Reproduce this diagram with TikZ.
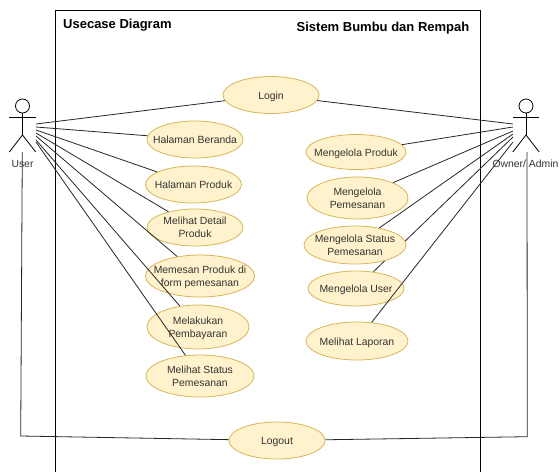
\documentclass[tikz,border=0pt]{standalone}
\usepackage{fontspec}
\setmainfont{Liberation Sans}
\usetikzlibrary{shapes.geometric}
\definecolor{casefill}{HTML}{FFF2CC}
\definecolor{caseline}{HTML}{D6B656}
\definecolor{labelgray}{HTML}{333333}
\tikzset{
    usecase/.style={ellipse, draw=caseline, fill=casefill, line width=0.8pt, inner sep=-15pt, align=center,
        text=labelgray, font=\fontsize{10.4}{13.3}\selectfont,
        execute at begin node={\rule{0pt}{11.5pt}}, execute at end node={\rule[-3.2pt]{0pt}{3.2pt}}},
    twolines/.style={usecase, execute at begin node={\rule{0pt}{24pt}}},
    actorname/.style={inner sep=0pt, text=labelgray, font=\fontsize{10.4}{13}\selectfont},
    title/.style={inner sep=0pt, font=\fontsize{13}{16}\selectfont\bfseries},
    link/.style={line width=0.8pt, black!85}
}
\begin{document}
\begin{tikzpicture}[x=1pt, y=-1pt]
            \useasboundingbox (0,0) rectangle (560,472);
            \draw[line width=0.8pt] (55,472)--(55,10.5)--(480.5,10.5)--(480.5,472);
            \node[title, anchor=west] (usecasetitle) at (63,24.7) {Usecase Diagram};
            \node[title, anchor=east] (systemtitle) at (469.5,27.7) {Sistem Bumbu dan Rempah};

            \foreach \x in {22.5, 526} {
                \draw[line width=0.8pt] (\x,106) circle (7);
                \draw[line width=0.8pt] (\x,113)--(\x,135);
                \draw[line width=0.8pt] (\x-13.2,117)--(\x+13.2,117);
                \draw[line width=0.8pt] (\x-13.2,152)--(\x,135)--(\x+13.2,152);
            }
            \node[actorname] (user) at (22.5,163.5) {User};
            \node[actorname] (owner) at (525.5,163.5) {Owner/ Admin};

            \node[usecase, minimum width=96, minimum height=37] (login) at (271,95) {Login};
            \node[usecase, minimum width=96, minimum height=37] (beranda) at (195,139.5) {Halaman Beranda};
            \node[usecase, minimum width=96, minimum height=37] (produk) at (193.5,184.5) {Halaman Produk};
            \node[twolines, minimum width=96, minimum height=37] (detail) at (195,227.5) {Melihat Detail\\Produk};
            \node[twolines, minimum width=109, minimum height=42] (memesan) at (200,276) {Memesan Produk di\\form pemesanan};
            \node[twolines, minimum width=102, minimum height=44] (bayar) at (198,327) {Melakukan\\Pembayaran};
            \node[twolines, minimum width=108, minimum height=42] (status) at (200,376) {Melihat Status\\Pemesanan};
            \node[usecase, minimum width=96, minimum height=37] (logout) at (277,440.5) {Logout};
            \node[usecase, minimum width=100, minimum height=35] (kelolaproduk) at (356,152) {Mengelola Produk};
            \node[twolines, minimum width=101, minimum height=42] (kelolapesan) at (357.5,198) {Mengelola\\Pemesanan};
            \node[usecase, minimum width=96, minimum height=35] (kelolauser) at (356,288.5) {Mengelola User};
            \node[usecase, minimum width=102, minimum height=38] (laporan) at (357,341) {Melihat Laporan};

            \foreach \n\y in {a/124, b/127, c/130, d/133, e/136, f/140, g/142} {
                \coordinate (user\n) at (36,\y);
            }
            \foreach \n\y in {a/124, b/127, c/131, d/134, e/137, f/142} {
                \coordinate (owner\n) at (513,\y);
            }
            \coordinate (userfoot) at (22.3,152);
            \coordinate (usercorner) at (20.7,436);
            \coordinate (ownerfoot) at (527,152);
            \coordinate (ownercorner) at (527.3,436.7);

            \foreach \p\q in {usera/login, userb/beranda, userc/produk, userd/detail, usere/memesan, userf/bayar, userg/status,
                ownera/login, ownerb/kelolaproduk, ownerc/kelolapesan, ownere/kelolauser, ownerf/laporan} {
                \draw[link] (\p)--(\q);
            }
            \draw[link] (userfoot)--(usercorner)--(logout);
            \draw[link] (ownerfoot)--(ownercorner)--(logout);

            \node[twolines, minimum width=102, minimum height=38] (kelolastatus) at (355,245) {Mengelola Status\\Pemesanan};
            \draw[link] (ownerd)--(kelolastatus);
        \end{tikzpicture}
\end{document}
